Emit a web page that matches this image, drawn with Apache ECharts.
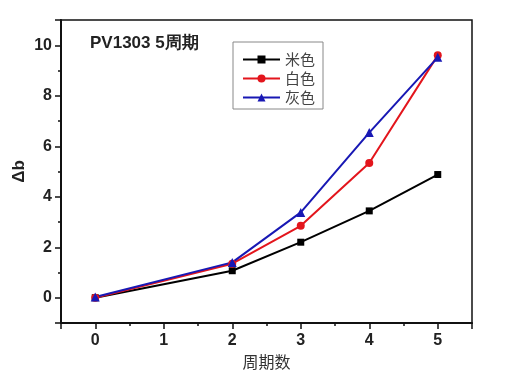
<!DOCTYPE html>
<html><head><meta charset="utf-8">
<script src="https://cdn.jsdelivr.net/npm/echarts@6/dist/echarts.min.js"></script>
<style>html,body{margin:0;padding:0;background:#fff}#c{width:525px;height:378px}</style>
</head><body><div id="c"></div>
<script>
const cycles = [0, 2, 3, 4, 5];
const miSe = [0, 1.07, 2.2, 3.44, 4.88];
const baiSe = [0, 1.35, 2.85, 5.34, 9.6];
const huiSe = [0.03, 1.4, 3.38, 6.54, 9.52];
const seriesNames = ['米色', '白色', '灰色'];
const titleText = 'PV1303 5周期';
const xName = '周期数';
const yName = 'Δb';

const chart = echarts.init(document.getElementById('c'));
const lab = {fontFamily: 'Liberation Sans, Arial', fontWeight: 'bold', fontSize: 16, color: '#222'};
function pairs(arr){ return cycles.map((c,i)=>[c, arr[i]]); }
chart.setOption({
  animation: false,
  backgroundColor: '#fff',
  title: {text: titleText, left: 85, top: 30, textStyle: {fontFamily: 'Liberation Sans, Arial', fontWeight: 'bold', fontSize: 17, color: '#222'}},
  legend: {
    data: seriesNames, orient: 'vertical', left: 233, top: 42,
    itemWidth: 37, itemHeight: 10, itemGap: 4,
    padding: [10, 8, 4, 9],
    borderColor: '#888', borderWidth: 1, backgroundColor: '#fff',
    textStyle: {fontSize: 15, color: '#444', fontFamily: 'Noto Sans CJK SC'}
  },
  grid: {left: 61, right: 53, top: 20, bottom: 55, outerBoundsMode: 'none', containLabel: false,
         show: true, borderColor: '#111', borderWidth: 1.5, backgroundColor: 'transparent'},
  xAxis: [
    {type: 'value', min: -0.5, max: 5.5, minInterval: 1, maxInterval: 1, position: 'bottom',
     name: xName, nameLocation: 'middle', nameGap: 30,
     nameTextStyle: {fontFamily: 'Noto Sans CJK SC', fontSize: 16, color: '#333'},
     axisLine: {show: true, onZero: false, lineStyle: {color: '#111', width: 2}},
     axisTick: {show: true, inside: false, length: 6, lineStyle: {color: '#111', width: 1.5}},
     axisLabel: Object.assign({margin: 10, formatter: v => Number.isInteger(v) ? String(v) : ''}, lab),
     splitLine: {show: false}},
    {type: 'value', min: -0.5, max: 5.5, interval: 0.5, position: 'bottom',
     axisLine: {show: false, onZero: false},
     axisTick: {show: true, length: 3, lineStyle: {color: '#111', width: 1.5}},
     axisLabel: {show: false}, splitLine: {show: false}}
  ],
  yAxis: [
    {type: 'value', min: -1, max: 11, minInterval: 2, maxInterval: 2, position: 'left',
     name: yName, nameLocation: 'middle', nameGap: 33, nameMoveOverlap: false,
     nameTextStyle: {fontFamily: 'Liberation Sans, Arial', fontWeight: 'bold', fontSize: 17, color: '#222'},
     axisLine: {show: true, onZero: false, lineStyle: {color: '#111', width: 2}},
     axisTick: {show: true, inside: false, length: 6, lineStyle: {color: '#111', width: 1.5}},
     axisLabel: Object.assign({margin: 9, formatter: v => (Number.isInteger(v) && v % 2 === 0 && v >= 0 && v <= 10) ? String(v) : ''}, lab),
     splitLine: {show: false}},
    {type: 'value', min: -1, max: 11, interval: 1, position: 'left',
     axisLine: {show: false, onZero: false},
     axisTick: {show: true, length: 3, lineStyle: {color: '#111', width: 1.5}},
     axisLabel: {show: false}, splitLine: {show: false}}
  ],
  series: [
    {name: seriesNames[0], type: 'line', data: pairs(miSe), symbol: 'rect', symbolSize: 7,
     itemStyle: {color: '#000'}, lineStyle: {color: '#000', width: 2}},
    {name: seriesNames[1], type: 'line', data: pairs(baiSe), symbol: 'circle', symbolSize: 8,
     itemStyle: {color: '#e3151c'}, lineStyle: {color: '#e3151c', width: 2}},
    {name: seriesNames[2], type: 'line', data: pairs(huiSe), symbol: 'triangle', symbolSize: 9,
     itemStyle: {color: '#1818b4'}, lineStyle: {color: '#1818b4', width: 2}}
  ]
});
</script></body></html>
